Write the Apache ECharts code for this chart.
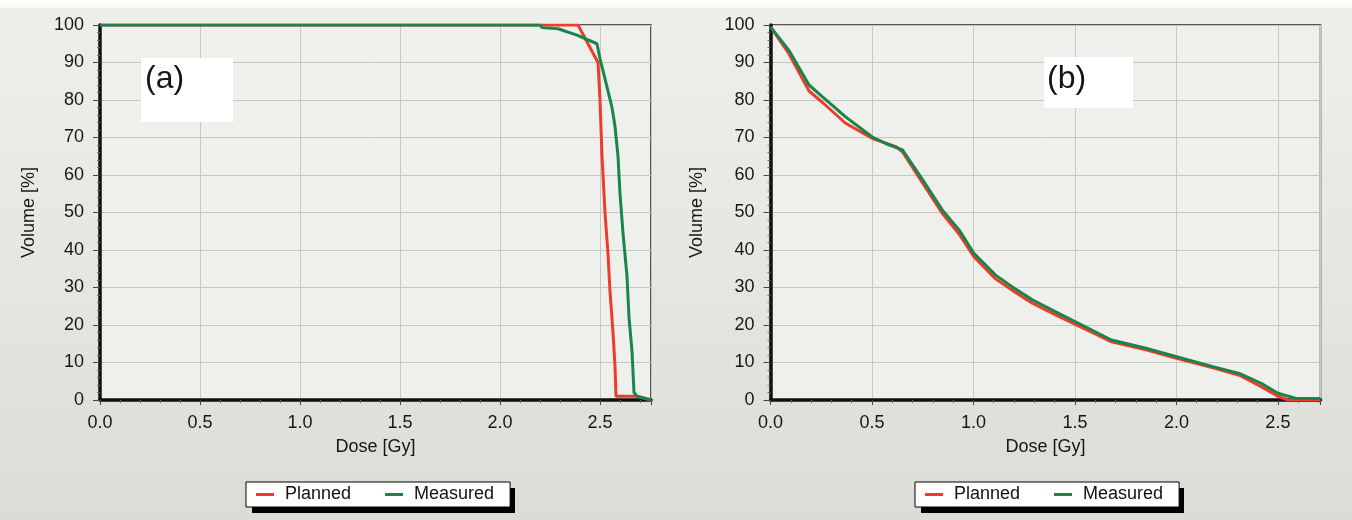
<!DOCTYPE html>
<html>
<head>
<meta charset="utf-8">
<script src="https://cdn.jsdelivr.net/npm/echarts@6/dist/echarts.min.js"></script>
<style>
  html, body { margin: 0; padding: 0; }
  body {
    width: 1352px;
    height: 520px;
    background: linear-gradient(to bottom, #fbfbfa 0, #fbfbfa 7px, #eeeeeb 8px, #e7e7e3 45%, #dcdcd7 100%);
  }
  #chart { width: 1352px; height: 520px; }
</style>
</head>
<body>
<div id="chart"></div>
<script>
// panel (a) – dose in Gy, volume in %
const doseAPlanned = [0, 2.39, 2.49, 2.50, 2.51, 2.525, 2.54, 2.55, 2.565, 2.575, 2.58, 2.685, 2.755];
const volAPlanned = [100, 100, 90, 80, 65, 50, 39, 29, 18, 9, 1, 1, 0];
const doseAMeasured = [0, 2.2, 2.21, 2.29, 2.385, 2.485, 2.5, 2.535, 2.56, 2.575, 2.59, 2.6, 2.615, 2.635, 2.645, 2.66, 2.67, 2.685, 2.755];
const volAMeasured = [100, 100, 99.3, 99, 97.3, 95, 91, 83.5, 78, 73, 65, 55, 44.5, 33, 22, 13, 2, 1, 0];

// panel (b)
const doseBPlanned = [0, 0.09, 0.19, 0.255, 0.37, 0.5, 0.62, 0.65, 0.75, 0.846, 0.93, 1.002, 1.109, 1.19, 1.29, 1.405, 1.52, 1.6, 1.68, 1.85, 1.996, 2.18, 2.31, 2.42, 2.5, 2.55, 2.71];
const volBPlanned = [99.5, 92.4, 82.4, 79.4, 73.8, 69.8, 67.5, 66.2, 57.8, 49.8, 44.2, 38.2, 32.3, 29.3, 25.8, 22.7, 19.7, 17.6, 15.5, 13.4, 11.2, 8.6, 6.6, 3.5, 1.0, 0, 0];
const doseBMeasured = [0, 0.09, 0.19, 0.255, 0.37, 0.5, 0.567, 0.65, 0.75, 0.846, 0.93, 1.002, 1.109, 1.19, 1.29, 1.405, 1.52, 1.6, 1.68, 1.85, 1.996, 2.18, 2.31, 2.42, 2.5, 2.59, 2.71];
const volBMeasured = [99.5, 93.3, 84, 80.9, 75.5, 70.2, 68.4, 66.7, 58.7, 50.7, 45.3, 39.1, 33.3, 30.2, 26.7, 23.5, 20.4, 18.2, 16, 13.8, 11.6, 8.9, 7.1, 4.4, 1.8, 0.4, 0.4];

const xMaxA = 2.755;
const xMaxB = 2.71;
const seriesNames = ['Planned', 'Measured'];
const panelLabels = ['(a)', '(b)'];

const RED = '#ee3b2b';
const GREEN = '#18864a';
const FONT = "'Liberation Sans', Arial, sans-serif";
const TEXT = '#161616';

const pairs = (xs, ys) => xs.map((x, i) => [x, ys[i]]);

const xAxisFor = (gridIndex, max) => ({
  type: 'value',
  gridIndex: gridIndex,
  min: 0,
  max: max,
  interval: 0.5,
  name: 'Dose [Gy]',
  nameLocation: 'middle',
  nameGap: 38,
  nameTextStyle: { fontFamily: FONT, fontSize: 18, color: TEXT },
  axisLine: { show: true, onZero: false, lineStyle: { color: '#111', width: 3.5 } },
  axisTick: { show: true, length: 5, lineStyle: { color: '#444', width: 1 } },
  minorTick: { show: true, splitNumber: 5, length: 3, lineStyle: { color: '#666', width: 1 } },
  axisLabel: {
    margin: 14,
    fontFamily: FONT,
    fontSize: 18,
    color: TEXT,
    showMaxLabel: false,
    formatter: v => v.toFixed(1)
  },
  splitLine: { show: true, lineStyle: { color: '#c6c6c3', width: 1 } }
});

const yAxisFor = (gridIndex, nameGap) => ({
  type: 'value',
  gridIndex: gridIndex,
  min: 0,
  max: 100,
  interval: 10,
  name: 'Volume [%]',
  nameLocation: 'middle',
  nameGap: nameGap,
  nameTextStyle: { fontFamily: FONT, fontSize: 18, color: TEXT },
  axisLine: { show: true, onZero: false, lineStyle: { color: '#111', width: 3.5 } },
  axisTick: { show: true, length: 7, lineStyle: { color: '#444', width: 1 } },
  minorTick: { show: true, splitNumber: 5, length: 3, lineStyle: { color: '#666', width: 1 } },
  axisLabel: { margin: 16, fontFamily: FONT, fontSize: 18, color: TEXT },
  splitLine: { show: true, lineStyle: { color: '#c6c6c3', width: 1 } }
});

const lineSeries = (name, data, color, idx) => ({
  name: name,
  type: 'line',
  xAxisIndex: idx,
  yAxisIndex: idx,
  data: data,
  showSymbol: false,
  color: color,
  lineStyle: { color: color, width: 3 }
});

const legendFor = (left) => ({
  left: left,
  top: 482,
  orient: 'horizontal',
  data: seriesNames,
  icon: 'rect',
  itemWidth: 18,
  itemHeight: 3,
  itemGap: 34,
  padding: [3, 16, 3, 10],
  backgroundColor: '#fff',
  borderColor: '#000',
  borderWidth: 1,
  borderRadius: 0,
  selectedMode: false,
  z: 10,
  textStyle: { fontFamily: FONT, fontSize: 18, color: '#111', lineHeight: 19, padding: [0, 0, 0, 6] }
});

// hard drop shadow behind each legend box
const legendShadow = (x) => ({
  type: 'rect',
  left: x,
  top: 488,
  z: 1,
  shape: { width: 263, height: 25 },
  style: { fill: '#000' }
});

const chart = echarts.init(document.getElementById('chart'));

chart.setOption({
  animation: false,
  backgroundColor: 'transparent',
  title: [
    {
      text: panelLabels[0], left: 141, top: 58,
      padding: [5, 49, 27, 4], backgroundColor: '#fff',
      textStyle: { fontFamily: FONT, fontSize: 32, fontWeight: 'normal', color: '#151515' }
    },
    {
      text: panelLabels[1], left: 1044, top: 57,
      padding: [6, 47, 13, 3], backgroundColor: '#fff',
      textStyle: { fontFamily: FONT, fontSize: 32, fontWeight: 'normal', color: '#151515' }
    }
  ],
  graphic: [legendShadow(252), legendShadow(921)],
  legend: [legendFor(246), legendFor(915)],
  grid: [
    { left: 100, top: 25, width: 551, height: 375, show: true, backgroundColor: '#efefec', borderColor: '#222', borderWidth: 1.5 },
    { left: 770.5, top: 25, width: 550, height: 375, show: true, backgroundColor: '#efefec', borderColor: '#222', borderWidth: 1.5 }
  ],
  xAxis: [xAxisFor(0, xMaxA), xAxisFor(1, xMaxB)],
  yAxis: [yAxisFor(0, 62), yAxisFor(1, 64)],
  series: [
    lineSeries(seriesNames[0], pairs(doseAPlanned, volAPlanned), RED, 0),
    lineSeries(seriesNames[1], pairs(doseAMeasured, volAMeasured), GREEN, 0),
    lineSeries(seriesNames[0], pairs(doseBPlanned, volBPlanned), RED, 1),
    lineSeries(seriesNames[1], pairs(doseBMeasured, volBMeasured), GREEN, 1)
  ]
});

window.addEventListener('resize', () => {
  chart.resize();
});
</script>
</body>
</html>
